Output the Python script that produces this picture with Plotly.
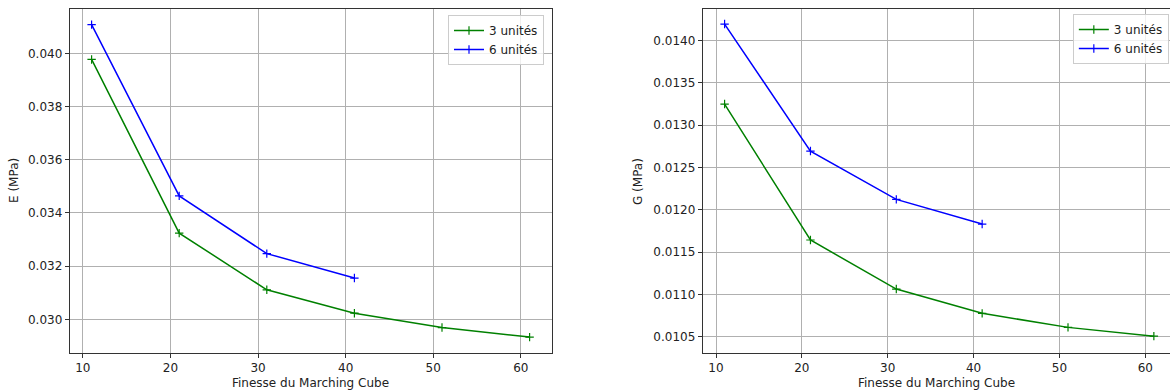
import plotly.graph_objects as go

finesse_3 = [11, 21, 31, 41, 51, 61]
finesse_6 = [11, 21, 31, 41]
E_3 = [0.03977, 0.03324, 0.03111, 0.03023, 0.02969, 0.02933]
E_6 = [0.04108, 0.03464, 0.03247, 0.03155]
G_3 = [0.013251, 0.011643, 0.011063, 0.010776, 0.010610, 0.010506]
G_6 = [0.014197, 0.012695, 0.012124, 0.011832]
labels = ["3 unités", "6 unités"]
colors = ["#008000", "#0000ff"]

FONT = "DejaVu Sans"
fig = go.Figure()

def add(x, y, name, color, xa, ya, legend):
    fig.add_trace(go.Scatter(
        x=x, y=y, mode="lines+markers", name=name, xaxis=xa, yaxis=ya, legend=legend,
        line=dict(color=color, width=1.5),
        marker=dict(symbol="cross-thin", size=6, line=dict(color=color, width=1.2)),
    ))

add(finesse_3, E_3, labels[0], colors[0], "x", "y", "legend")
add(finesse_6, E_6, labels[1], colors[1], "x", "y", "legend")
add(finesse_3, G_3, labels[0], colors[0], "x2", "y2", "legend2")
add(finesse_6, G_6, labels[1], colors[1], "x2", "y2", "legend2")

ydom = [39/392, 383/392]
axis_common = dict(
    showgrid=True, gridcolor="#b0b0b0", gridwidth=0.8,
    showline=True, linecolor="#333333", linewidth=1,
    ticks="outside", ticklen=4, tickcolor="#333333", tickwidth=1,
    tickfont=dict(family=FONT, size=12, color="#222222"),
    zeroline=False,
)
legend_font = dict(family=FONT, size=12, color="#222222")
title_font = dict(family=FONT, size=12, color="#222222")

fig.update_layout(
    width=1170, height=392,
    margin=dict(l=0, r=0, t=0, b=0),
    paper_bgcolor="white", plot_bgcolor="white",
    font=dict(family=FONT, size=12, color="#222222"),
    xaxis=dict(domain=[69.7/1170, 551.5/1170], range=[8.5, 63.5], anchor="y",
               tickvals=[10, 20, 30, 40, 50, 60], mirror=True, **axis_common),
    yaxis=dict(domain=ydom, range=[0.028733, 0.041666], anchor="x",
               tickvals=[0.030, 0.032, 0.034, 0.036, 0.038, 0.040], tickformat=".3f",
               mirror=True, **axis_common),
    xaxis2=dict(domain=[702.7/1170, 1.0], range=[8.45, 62.88], anchor="y2",
                tickvals=[10, 20, 30, 40, 50, 60], mirror=True, **axis_common),
    yaxis2=dict(domain=ydom, range=[0.010307, 0.014375], anchor="x2",
                tickvals=[0.0105, 0.0110, 0.0115, 0.0120, 0.0125, 0.0130, 0.0135, 0.0140],
                tickformat=".4f", mirror=False, **axis_common),
    legend=dict(x=544/1170, y=(392-15)/392, xanchor="right", yanchor="top",
                bgcolor="rgba(255,255,255,0.8)", bordercolor="#cccccc", borderwidth=1,
                font=legend_font, itemwidth=30),
    legend2=dict(x=0.999, y=(392-14)/392, xanchor="right", yanchor="top",
                 bgcolor="rgba(255,255,255,0.8)", bordercolor="#cccccc", borderwidth=1,
                 font=legend_font, itemwidth=30),
    annotations=[
        dict(text="E (MPa)", x=14/1170, y=(392-181)/392, xref="paper", yref="paper",
             xanchor="center", yanchor="middle",
             showarrow=False, textangle=-90, font=title_font),
        dict(text="G (MPa)", x=638/1170, y=(392-181)/392, xref="paper", yref="paper",
             xanchor="center", yanchor="middle",
             showarrow=False, textangle=-90, font=title_font),
        dict(text="Finesse du Marching Cube", x=310/1170, y=(392-383)/392, xref="paper", yref="paper",
             xanchor="center", yanchor="middle", showarrow=False, font=title_font),
        dict(text="Finesse du Marching Cube", x=936/1170, y=(392-383)/392, xref="paper", yref="paper",
             xanchor="center", yanchor="middle", showarrow=False, font=title_font),
    ],
)

fig.write_html("out.html", config={"displayModeBar": False},
               post_script="document.body.style.margin='0';document.body.style.overflow='hidden';")
